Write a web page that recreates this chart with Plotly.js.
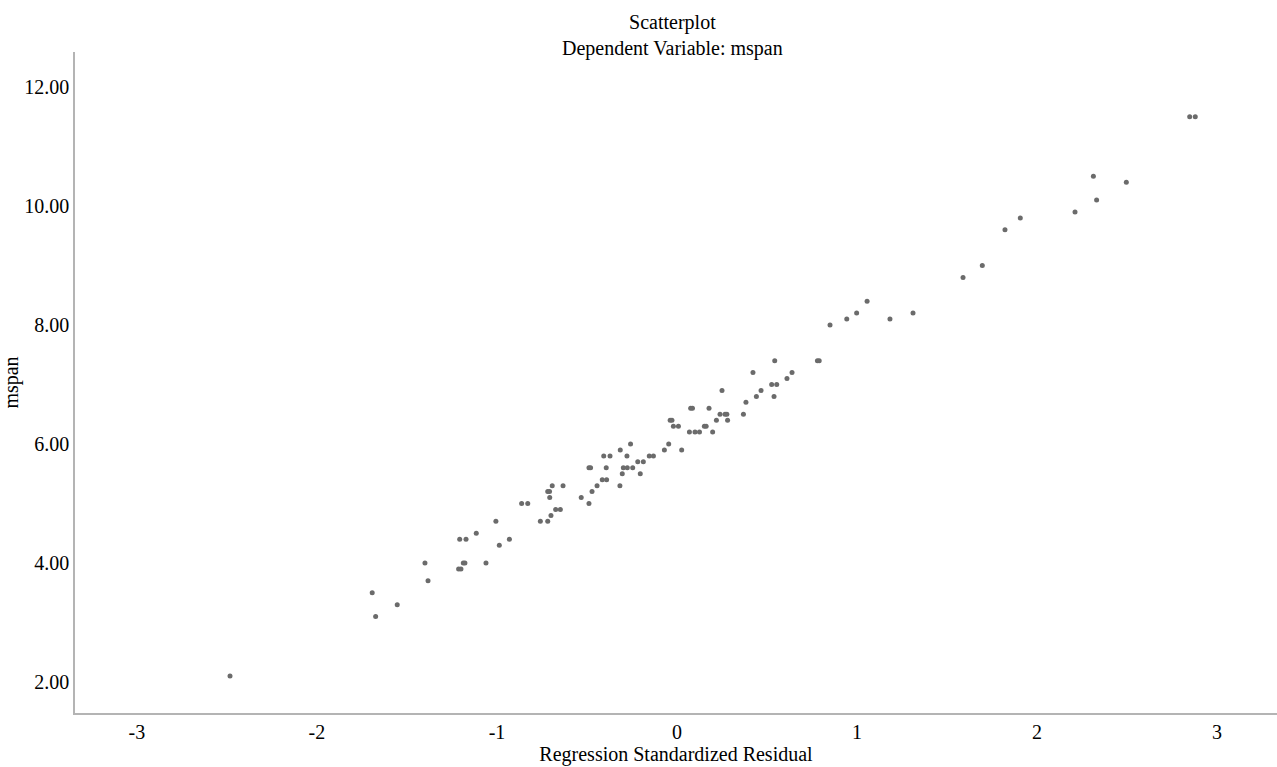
<!DOCTYPE html>
<html>
<head>
<meta charset="utf-8">
<script src="https://cdn.plot.ly/plotly-3.0.1.min.js"></script>
<style>html,body{margin:0;padding:0;background:#fff;}#chart{width:1277px;height:767px;}</style>
</head>
<body>
<div id="chart"></div>
<script>
// Regression standardized residual (x) vs mspan (y)
const residual = [
  -2.483, -1.693, -1.674, -1.554, -1.400, -1.383, -1.213, -1.200, -1.187, -1.178,
  -1.207, -1.172, -1.115, -1.061, -1.006, -0.987, -0.931, -0.863, -0.829, -0.759,
  -0.718, -0.700, -0.674, -0.648, -0.707, -0.718, -0.708, -0.693, -0.633, -0.532,
  -0.489, -0.472, -0.444, -0.489, -0.480, -0.415, -0.391, -0.393, -0.407, -0.372,
  -0.317, -0.304, -0.298, -0.276, -0.246, -0.315, -0.278, -0.258, -0.218, -0.187,
  -0.204, -0.154, -0.131, -0.070, -0.046, 0.026, -0.038, -0.028, -0.020, 0.008,
  0.069, 0.100, 0.125, 0.198, 0.076, 0.086, 0.152, 0.162, 0.178, 0.219,
  0.239, 0.267, 0.277, 0.281, 0.250, 0.369, 0.383, 0.422, 0.441, 0.467,
  0.526, 0.554, 0.539, 0.543, 0.611, 0.639, 0.780, 0.790, 0.850, 0.943,
  0.998, 1.056, 1.183, 1.311, 1.589, 1.696, 1.822, 1.907, 2.211, 2.313,
  2.331, 2.496, 2.848, 2.879
];
const mspan = [
  2.1, 3.5, 3.1, 3.3, 4.0, 3.7, 3.9, 3.9, 4.0, 4.0,
  4.4, 4.4, 4.5, 4.0, 4.7, 4.3, 4.4, 5.0, 5.0, 4.7,
  4.7, 4.8, 4.9, 4.9, 5.1, 5.2, 5.2, 5.3, 5.3, 5.1,
  5.0, 5.2, 5.3, 5.6, 5.6, 5.4, 5.4, 5.6, 5.8, 5.8,
  5.3, 5.5, 5.6, 5.6, 5.6, 5.9, 5.8, 6.0, 5.7, 5.7,
  5.5, 5.8, 5.8, 5.9, 6.0, 5.9, 6.4, 6.4, 6.3, 6.3,
  6.2, 6.2, 6.2, 6.2, 6.6, 6.6, 6.3, 6.3, 6.6, 6.4,
  6.5, 6.5, 6.5, 6.4, 6.9, 6.5, 6.7, 7.2, 6.8, 6.9,
  7.0, 7.0, 6.8, 7.4, 7.1, 7.2, 7.4, 7.4, 8.0, 8.1,
  8.2, 8.4, 8.1, 8.2, 8.8, 9.0, 9.6, 9.8, 9.9, 10.5,
  10.1, 10.4, 11.5, 11.5
];
const xTickVals = [-3, -2, -1, 0, 1, 2, 3];
const xTickText = ['-3', '-2', '-1', '0', '1', '2', '3'];
const yTickVals = [2, 4, 6, 8, 10, 12];
const yTickText = ['2.00', '4.00', '6.00', '8.00', '10.00', '12.00'];

const font = 'Liberation Serif, Times New Roman, serif';

Plotly.newPlot('chart', [{
  x: residual,
  y: mspan,
  type: 'scatter',
  mode: 'markers',
  marker: {color: '#6b6b6b', size: 5},
  hoverinfo: 'x+y'
}], {
  width: 1277,
  height: 767,
  paper_bgcolor: '#ffffff',
  plot_bgcolor: '#ffffff',
  margin: {l: 75, r: 0, t: 52, b: 54},
  font: {family: font, size: 20, color: '#000000'},
  title: {
    text: 'Scatterplot<br>Dependent Variable: mspan',
    font: {family: font, size: 20, color: '#000000'},
    x: 0.497, xref: 'paper', xanchor: 'center',
    y: 0.962, yref: 'container', yanchor: 'top'
  },
  xaxis: {
    range: [-3.344, 3.333],
    tickvals: xTickVals,
    ticktext: xTickText,
    showgrid: false,
    zeroline: false,
    showline: true,
    linecolor: '#b4b4b4',
    linewidth: 1.5,
    ticks: '',
    tickfont: {family: font, size: 20, color: '#000000'},
    title: {text: 'Regression Standardized Residual', font: {family: font, size: 20, color: '#000000'}, standoff: 4}
  },
  yaxis: {
    range: [1.479, 12.588],
    tickvals: yTickVals,
    ticktext: yTickText,
    showgrid: false,
    zeroline: false,
    showline: true,
    linecolor: '#b4b4b4',
    linewidth: 1.5,
    ticks: '',
    tickfont: {family: font, size: 20, color: '#000000'},
    title: {text: 'mspan', font: {family: font, size: 20, color: '#000000'}, standoff: 2}
  },
  showlegend: false
}, {displayModeBar: false, staticPlot: false});
</script>
</body>
</html>
